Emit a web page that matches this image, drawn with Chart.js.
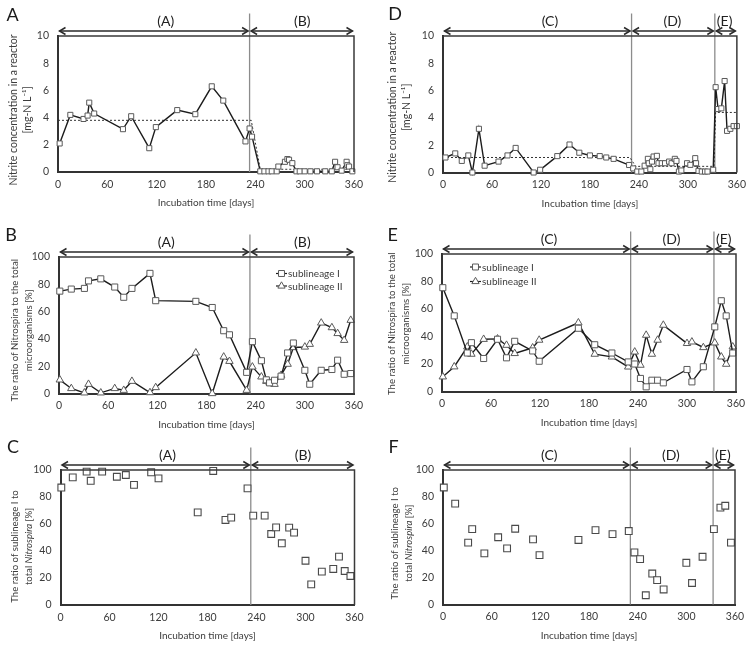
<!DOCTYPE html>
<html>
<head>
<meta charset="utf-8">
<script src="https://cdn.jsdelivr.net/npm/chart.js@4.4.1/dist/chart.umd.min.js"></script>
<style>
  html, body { margin: 0; padding: 0; background: #fff; }
  #fig { position: relative; width: 752px; height: 651px; }
  #fig canvas { position: absolute; }
</style>
</head>
<body>
<div id="fig">
  <canvas id="pA" width="376" height="217" style="left:0;top:0"></canvas>
  <canvas id="pD" width="376" height="217" style="left:376px;top:0"></canvas>
  <canvas id="pB" width="376" height="217" style="left:0;top:217px"></canvas>
  <canvas id="pE" width="376" height="217" style="left:376px;top:217px"></canvas>
  <canvas id="pC" width="376" height="217" style="left:0;top:434px"></canvas>
  <canvas id="pF" width="376" height="217" style="left:376px;top:434px"></canvas>
</div>
<script>
// ---- data (days of incubation / values)

// A: nitrite in reactor, periods (A)-(B)
const nitA_day = [2, 15, 31, 36, 38, 44, 79, 89, 111, 119, 145, 167, 187, 201, 228, 233, 236,
  246, 251, 256, 260, 266, 268, 276, 279, 281, 285, 290, 294, 300, 307, 315, 325, 333,
  337, 340, 345, 351, 352, 354, 358];
const nitA_val = [2.1, 4.2, 3.9, 4.15, 5.1, 4.3, 3.15, 4.1, 1.75, 3.3, 4.55, 4.25, 6.3, 5.25, 2.25, 3.2, 2.6,
  0.05, 0.05, 0.05, 0.05, 0.05, 0.4, 0.75, 0.95, 0.9, 0.65, 0.05, 0.05, 0.05, 0.05, 0.05, 0.05, 0.05,
  0.75, 0.35, 0.1, 0.75, 0.5, 0.4, 0.05];
const nitA_meanDay = [0, 235, 246, 360];
const nitA_meanVal = [3.8, 3.8, 0.2, 0.2];

// D: nitrite in reactor, periods (C)-(E)
const nitD_day = [3, 15, 23, 31, 36, 44, 51, 68, 79, 89, 111, 119, 140, 155, 167, 180, 192, 200, 209, 228,
  233, 238, 243, 247, 251, 252, 254, 256, 258, 262, 264, 268, 272, 277, 280, 284, 286, 289, 292, 299,
  303, 309, 310, 313, 317, 321, 324, 331, 334, 337, 341, 345, 348, 352, 356, 360];
const nitD_val = [1.1, 1.4, 0.85, 1.25, 0.0, 3.2, 0.5, 0.8, 1.25, 1.8, 0.0, 0.2, 1.2, 2.05, 1.45, 1.25, 1.2, 1.1, 1.0, 0.55,
  0.3, 0.07, 0.07, 0.5, 1.0, 0.68, 0.24, 0.8, 1.17, 1.22, 0.68, 0.68, 0.68, 0.8, 0.68, 1.0, 0.85, 0.07, 0.15, 0.68,
  0.56, 1.05, 0.68, 0.12, 0.07, 0.07, 0.07, 0.2, 6.25, 4.65, 4.7, 6.7, 3.05, 3.2, 3.4, 3.4];
const nitD_meanDay = [0, 229, 236, 332, 334, 360];
const nitD_meanVal = [1.1, 1.1, 0.45, 0.45, 4.4, 4.4];

// B: Nitrospira / total microorganisms [%]
const ratB_day = [1, 15, 31, 36, 51, 68, 79, 89, 111, 118, 167, 187, 201, 208, 229, 236, 247, 253, 257, 263,
  271, 279, 286, 300, 306, 320, 333, 340, 348, 356];
const ratB_subI = [75, 76.5, 77, 82.5, 84, 78, 70.5, 77, 88, 68, 67.5, 63, 46, 43, 15.5, 38, 24, 10, 7.8, 9.7,
  12.7, 29.7, 37, 17, 6.8, 17, 17.6, 24.4, 14.1, 14.6];
const ratB_subII = [10, 3.7, 0.5, 6.8, 0.5, 3.7, 2.4, 9, 0.7, 4.4, 29.8, 0, 26.8, 23.6, 2.4, 19.5, 12.2, 9, 7.8, 6.8,
  13.4, 21.5, 33.7, 34.1, 36.1, 51.7, 48.3, 44, 39, 53.7];

// E: Nitrospira / total microorganisms [%]
const ratE_day = [1, 15, 31, 36, 51, 68, 79, 89, 111, 119, 167, 187, 208, 228, 236, 243, 250, 257, 264, 271,
  300, 306, 320, 334, 342, 348, 356];
const ratE_subI = [75.5, 55, 28, 35.5, 24, 38, 24.5, 36.5, 29.5, 22, 46, 34, 28, 21.5, 20, 9.5, 3.4, 8.2, 8.2, 6.3,
  16, 7, 18, 47, 66, 55, 28];
const ratE_subII = [10.7, 18, 32.5, 27.2, 38, 38.3, 33.7, 27.7, 31.8, 37.4, 50, 27.2, 25.2, 17.9, 28.8, 19.2, 41, 27.2, 37.4, 48.3,
  35, 36.1, 32, 35.4, 25.2, 19.9, 32.5];

// C: sublineage I / total Nitrospira [%]
const shC_day = [1, 15, 32, 37, 51, 69, 80, 90, 111, 120, 168, 187, 202, 209, 229, 236, 250, 258, 264, 271,
  280, 286, 300, 307, 320, 334, 341, 348, 355];
const shC_val = [87, 94.5, 98.8, 92, 98.8, 95, 96.3, 89, 98.3, 93.8, 68.6, 99.3, 63, 64.7, 86.4, 66.2, 66.2, 52.6, 57.5, 45.7,
  57.3, 53.6, 32.8, 15.3, 24.7, 26.7, 35.8, 25.2, 21.5];

// F: sublineage I / total Nitrospira [%]
const shF_day = [1, 15, 31, 36, 51, 68, 79, 89, 111, 119, 167, 188, 209, 229, 236, 243, 250, 258, 264, 272,
  300, 307, 320, 334, 342, 348, 355];
const shF_val = [87, 75, 46, 56, 38, 50, 41.7, 56.3, 48.4, 36.7, 48, 55.3, 52.3, 54.6, 38.7, 33.7, 6.9, 23, 18.1, 11.2,
  31, 16, 35.5, 56, 72, 73.4, 46];

// operating periods
const periodsLeft = [
  { label: '(A)', from: 0, to: 233, at: 131 },
  { label: '(B)', from: 233, to: 360, at: 297 }
];
const periodsRight = [
  { label: '(C)', from: 0, to: 231, at: 131 },
  { label: '(D)', from: 231, to: 333, at: 281 },
  { label: '(E)', from: 333, to: 360, at: 345 }
];
const xTicks = [0, 60, 120, 180, 240, 300, 360];

// ---- styling
const FONT = 'Lato, "Open Sans", sans-serif';
const TXT = '#3c3c3c';
const AXIS = '#333';
const LINE = '#1c1c1c';
const MARK = '#5a5a5a';

const pts = (xs, ys) => xs.map((d, i) => ({ x: d, y: ys[i] }));

function lineSeries(xs, ys, style, r) {
  return {
    data: pts(xs, ys), showLine: true, borderColor: LINE, borderWidth: 1.4,
    pointStyle: style, pointRadius: r, pointHoverRadius: r,
    pointBackgroundColor: '#fff', pointBorderColor: MARK, pointBorderWidth: 1, clip: false
  };
}
function meanSeries(xs, ys) {
  return {
    data: pts(xs, ys), showLine: true, borderColor: '#333', borderWidth: 1,
    borderDash: [2, 2], pointRadius: 0, pointHoverRadius: 0, clip: false
  };
}
function dotSeries(xs, ys, r) {
  return {
    data: pts(xs, ys), showLine: false, pointStyle: 'rect', pointRadius: r, pointHoverRadius: r,
    pointBackgroundColor: '#fff', pointBorderColor: '#4a4a4a', pointBorderWidth: 1.1, clip: false
  };
}

// text with *italic* parts, centred on cx
function richText(ctx, text, cx, cy, size) {
  const parts = text.split('*');
  const ws = parts.map((p, i) => { ctx.font = (i % 2 ? 'italic ' : '') + size + 'px ' + FONT; return ctx.measureText(p).width; });
  let xx = cx - ws.reduce((a, b) => a + b, 0) / 2;
  parts.forEach((p, i) => {
    ctx.font = (i % 2 ? 'italic ' : '') + size + 'px ' + FONT;
    ctx.fillText(p, xx, cy);
    xx += ws[i];
  });
}

function arrowHead(ctx, x, y, dir) {
  ctx.beginPath();
  ctx.moveTo(x - dir * 6, y - 3.5);
  ctx.lineTo(x, y);
  ctx.lineTo(x - dir * 6, y + 3.5);
  ctx.stroke();
}

const decor = {
  id: 'decor',
  beforeDatasetsDraw(chart, args, o) {
    const { ctx, chartArea: a, scales: { x } } = chart;
    ctx.save();
    ctx.strokeStyle = '#8c8c8c';
    ctx.lineWidth = 1.3;
    o.bounds.forEach(d => {
      const px = x.getPixelForValue(d);
      ctx.beginPath();
      ctx.moveTo(px, a.top - 22.5);
      ctx.lineTo(px, a.bottom);
      ctx.stroke();
    });
    ctx.restore();
  },
  afterDraw(chart, args, o) {
    const { ctx, chartArea: a, scales: { x } } = chart;
    ctx.save();
    // top / right frame
    ctx.strokeStyle = '#3a3a3a';
    ctx.lineWidth = 1.5;
    ctx.beginPath();
    ctx.moveTo(a.left, a.top);
    ctx.lineTo(a.right, a.top);
    ctx.lineTo(a.right, a.bottom);
    ctx.stroke();

    // period arrows and labels
    ctx.strokeStyle = '#2a2a2a';
    ctx.lineWidth = 1.5;
    ctx.fillStyle = '#222';
    ctx.textAlign = 'left';
    ctx.textBaseline = 'middle';
    const ay = a.top - 5;
    o.periods.forEach(p => {
      const x0 = x.getPixelForValue(p.from) + 1.5;
      const x1 = x.getPixelForValue(p.to) - 1.5;
      ctx.beginPath();
      ctx.moveTo(x0, ay);
      ctx.lineTo(x1, ay);
      ctx.stroke();
      arrowHead(ctx, x0, ay, -1);
      arrowHead(ctx, x1, ay, 1);
      richText(ctx, p.label, x.getPixelForValue(p.at), a.top - 14.5, 14);
    });

    // panel letter
    ctx.fillStyle = '#1a1a1a';
    ctx.font = '18px ' + FONT;
    ctx.textAlign = 'center';
    ctx.fillText(o.letter, o.letterPos[0], o.letterPos[1]);

    // axis titles
    ctx.fillStyle = TXT;
    ctx.textAlign = 'left';
    richText(ctx, 'Incubation time [days]', (a.left + a.right) / 2, a.bottom + 31, 10);
    const cy = (a.top + a.bottom) / 2 + o.yTitleDy;
    o.yTitle.forEach((t, i) => {
      ctx.save();
      ctx.translate(o.yTitleX[i], cy);
      ctx.rotate(-Math.PI / 2);
      richText(ctx, t, 0, 0, o.yTitleSize);
      ctx.restore();
    });

    // legend
    if (o.legend) {
      ctx.font = '10px ' + FONT;
      ctx.textAlign = 'left';
      o.legend.items.forEach((it, i) => {
        const lx = o.legend.x;
        const ly = a.top + o.legend.y + i * o.legend.step;
        ctx.strokeStyle = LINE;
        ctx.lineWidth = 1.2;
        ctx.beginPath();
        ctx.moveTo(lx, ly);
        ctx.lineTo(lx + 11, ly);
        ctx.stroke();
        ctx.fillStyle = '#fff';
        ctx.strokeStyle = MARK;
        ctx.lineWidth = 1;
        Chart.helpers.drawPoint(ctx, { pointStyle: it.style, radius: 4.2, borderWidth: 1, rotation: 0 }, lx + 5.5, ly);
        ctx.fillStyle = TXT;
        ctx.fillText(it.text, lx + 12, ly + 0.5);
      });
    }
    ctx.restore();
  }
};

function buildPanel(p) {
  const W = 376, H = 217;
  const [L, T, R, B] = p.area;
  const tickFont = { family: FONT, size: 10.5 };
  return new Chart(document.getElementById(p.id), {
    type: 'scatter',
    data: { datasets: p.datasets },
    options: {
      responsive: false,
      animation: false,
      events: [],
      layout: { autoPadding: false, padding: { left: 0, top: T, right: W - R, bottom: 0 } },
      plugins: { legend: { display: false }, tooltip: { enabled: false }, decor: p.decor },
      scales: {
        x: {
          type: 'linear', min: 0, max: 360,
          afterFit: s => { s.height = H - B; },
          afterBuildTicks: s => { s.ticks = xTicks.map(v => ({ value: v })); },
          ticks: { padding: 6, color: TXT, font: tickFont, maxRotation: 0 },
          grid: { display: false, drawTicks: false },
          border: { color: AXIS, width: 2 }
        },
        y: {
          min: 0, max: p.ymax,
          afterFit: s => { s.width = L; },
          ticks: { stepSize: p.ystep, padding: 9, color: TXT, font: tickFont },
          grid: { display: false, drawTicks: false },
          border: { color: AXIS, width: 2 }
        }
      }
    },
    plugins: [decor]
  });
}

const nitTitle = ['Nitrite concentration in a reactor', '[mg-N L\u207B\u00B9]'];
const ratTitle = ['The ratio of Nitrospira to the total', 'microorganisms [%]'];
const shTitle = ['The ratio of sublineage I to', 'total *Nitrospira* [%]'];
const legendItems = [
  { style: 'rect', text: 'sublineage I' },
  { style: 'triangle', text: 'sublineage II' }
];

buildPanel({
  id: 'pA', area: [58, 36, 354, 172], ymax: 10, ystep: 2,
  datasets: [lineSeries(nitA_day, nitA_val, 'rect', 3.6), meanSeries(nitA_meanDay, nitA_meanVal)],
  decor: { letter: 'A', letterPos: [12.5, 15], periods: periodsLeft, bounds: [233],
    yTitle: nitTitle, yTitleX: [14, 28], yTitleDy: 6, yTitleSize: 10.5 }
});
buildPanel({
  id: 'pD', area: [67, 36, 361, 172.5], ymax: 10, ystep: 2,
  datasets: [lineSeries(nitD_day, nitD_val, 'rect', 3.6), meanSeries(nitD_meanDay, nitD_meanVal)],
  decor: { letter: 'D', letterPos: [19, 14], periods: periodsRight, bounds: [231, 333],
    yTitle: nitTitle, yTitleX: [17, 31], yTitleDy: 3, yTitleSize: 10.5 }
});
buildPanel({
  id: 'pB', area: [59, 40, 354, 176.5], ymax: 100, ystep: 20,
  datasets: [lineSeries(ratB_day, ratB_subI, 'rect', 4.3), lineSeries(ratB_day, ratB_subII, 'triangle', 4.3)],
  decor: { letter: 'B', letterPos: [11, 18], periods: periodsLeft, bounds: [233],
    yTitle: ratTitle, yTitleX: [15, 29], yTitleDy: 5, yTitleSize: 9.6,
    legend: { x: 276, y: 16.5, step: 12.5, items: legendItems } }
});
buildPanel({
  id: 'pE', area: [66, 37, 360, 174.5], ymax: 100, ystep: 20,
  datasets: [lineSeries(ratE_day, ratE_subI, 'rect', 4.3), lineSeries(ratE_day, ratE_subII, 'triangle', 4.3)],
  decor: { letter: 'E', letterPos: [16.7, 18], periods: periodsRight, bounds: [231, 333],
    yTitle: ratTitle, yTitleX: [16, 30], yTitleDy: 1, yTitleSize: 9.6,
    legend: { x: 94, y: 13, step: 14.5, items: legendItems } }
});
buildPanel({
  id: 'pC', area: [60.5, 36, 354.5, 171], ymax: 100, ystep: 20,
  datasets: [dotSeries(shC_day, shC_val, 4.8)],
  decor: { letter: 'C', letterPos: [13, 13], periods: periodsLeft, bounds: [233],
    yTitle: shTitle, yTitleX: [15, 29], yTitleDy: 9, yTitleSize: 9.6 }
});
buildPanel({
  id: 'pF', area: [67, 36, 359, 170.5], ymax: 100, ystep: 20,
  datasets: [dotSeries(shF_day, shF_val, 4.8)],
  decor: { letter: 'F', letterPos: [17.5, 13], periods: periodsRight, bounds: [231, 333],
    yTitle: shTitle, yTitleX: [19, 33], yTitleDy: 6, yTitleSize: 9.6 }
});
</script>
</body>
</html>
